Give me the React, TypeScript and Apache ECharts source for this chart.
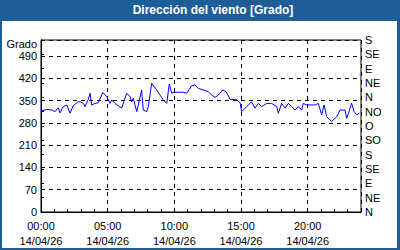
import React, { useEffect, useRef } from 'react';
import * as echarts from 'echarts';

const TITLE = 'Dirección del viento [Grado]';
const Y_NAME = 'Grado';
const DATE_LABEL = '14/04/26';
const COMPASS = ['N', 'NE', 'E', 'SE', 'S', 'SO', 'O', 'NO', 'N', 'NE', 'E', 'SE', 'S'];

// time of day in hours
const HOURS = [
  0, 0.43, 0.83, 1.05, 1.3, 1.43, 1.65, 1.93, 2.18, 2.4, 2.78, 2.93, 3.17, 3.3, 3.55, 3.68, 3.8,
  4.05, 4.3, 4.63, 4.93, 5.18, 5.3, 5.55, 6.05, 6.43, 6.68, 6.8, 6.92, 7.18, 7.55, 7.67, 7.93,
  8.05, 8.3, 8.68, 8.93, 9.17, 9.43, 9.62, 9.8, 10.05, 10.67, 10.93, 11.3, 11.55, 11.8, 12.17,
  12.55, 12.8, 13.05, 13.3, 13.63, 13.88, 14.18, 14.68, 14.93, 15.05, 15.43, 15.8, 16.05, 16.3,
  16.55, 16.93, 17.3, 17.68, 17.8, 18.05, 18.3, 18.55, 18.8, 19.05, 19.3, 19.55, 19.67, 19.93,
  20.55, 20.8, 21.05, 21.23, 21.43, 21.8, 22.18, 22.43, 22.8, 22.93, 23.3, 23.48, 23.68, 23.88,
];
// wind direction in degrees
const DIRECTION = [
  317, 322, 320, 315, 327, 311, 330, 336, 310, 333, 346, 346, 341, 331, 354, 373, 336,
  341, 343, 375, 362, 341, 352, 341, 326, 373, 362, 346, 357, 315, 383, 320, 315,
  331, 404, 383, 367, 352, 341, 402, 373, 376, 376, 373, 396, 399, 388, 383,
  378, 367, 360, 367, 383, 378, 354, 352, 343, 315, 331, 346, 326, 341,
  331, 341, 341, 331, 310, 341, 326, 341, 331, 320, 331, 320, 341, 336,
  336, 341, 305, 336, 299, 284, 299, 320, 320, 294, 341, 315, 305, 310,
];

const FONT = 'Liberation Sans, Arial, sans-serif';

export default function App() {
  const ref = useRef<HTMLDivElement>(null);
  useEffect(() => {
    if (!ref.current) return;
    const chart = echarts.init(ref.current, null, { renderer: 'svg' });
    const pad = (n: number) => (n < 10 ? '0' + n : '' + n);
    const dashed = { show: true, lineStyle: { color: '#000', type: [4, 4] as any, width: 1 } };
    chart.setOption({
      animation: false,
      textStyle: { fontFamily: FONT },
      grid: {
        left: 41, top: 40, width: 320, height: 172,
        show: true, borderColor: '#000', borderWidth: 1, backgroundColor: 'transparent',
      },
      graphic: [
        {
          type: 'text', x: 213, y: 10,
          style: {
            text: TITLE, fill: '#fff', font: 'bold 12px ' + FONT,
            textAlign: 'center', textVerticalAlign: 'middle',
          },
        },
        {
          type: 'text', x: 37, y: 44,
          style: {
            text: Y_NAME, fill: '#000', font: '11px ' + FONT,
            textAlign: 'right', textVerticalAlign: 'middle',
          },
        },
      ],
      xAxis: [
        {
          type: 'value', min: 0, max: 24, interval: 5, position: 'bottom',
          axisLine: { show: true, lineStyle: { color: '#000' } },
          axisTick: { show: true, inside: true, length: 3, lineStyle: { color: '#000' } },
          splitLine: dashed,
          axisLabel: {
            showMaxLabel: false, color: '#000', fontSize: 11, fontFamily: FONT,
            margin: 6, lineHeight: 15,
            formatter: (v: number) => pad(v) + ':00\n' + DATE_LABEL,
          },
        },
        {
          type: 'value', min: 0, max: 24, interval: 1, position: 'bottom', offset: 0,
          axisLine: { show: false },
          axisTick: { show: true, inside: true, length: 3, lineStyle: { color: '#000' } },
          splitLine: { show: false },
          axisLabel: { show: false },
        },
      ],
      yAxis: [
        {
          type: 'value', min: 0, max: 540, interval: 70, position: 'left',
          axisLine: { show: true, lineStyle: { color: '#000' } },
          axisTick: { show: false },
          splitLine: dashed,
          axisLabel: {
            showMaxLabel: false, color: '#000', fontSize: 11, fontFamily: FONT, margin: 4,
          },
        },
        {
          type: 'value', min: 0, max: 540, interval: 45, position: 'right',
          axisLine: { show: true, lineStyle: { color: '#000' } },
          axisTick: { show: true, length: 3, lineStyle: { color: '#000' } },
          splitLine: { show: false },
          axisLabel: {
            color: '#000', fontSize: 11, fontFamily: FONT, margin: 4,
            formatter: (v: number) => COMPASS[Math.round(v / 45)] ?? '',
          },
        },
      ],
      series: [
        {
          type: 'line',
          xAxisIndex: 0,
          yAxisIndex: 0,
          data: HOURS.map((h, i) => [h, DIRECTION[i]]),
          showSymbol: false,
          symbol: 'none',
          lineStyle: { color: '#0000ff', width: 1 },
        },
      ],
    });
    return () => chart.dispose();
  }, []);
  return (
    <div style={{ position: 'absolute', left: 0, top: 0, width: 400, height: 250, background: '#1F5D99' }}>
      <div style={{ position: 'absolute', left: 2, top: 21, width: 395, height: 227, background: '#fff' }} />
      <div ref={ref} style={{ position: 'absolute', left: 0, top: 0, width: 400, height: 250 }} />
    </div>
  );
}
